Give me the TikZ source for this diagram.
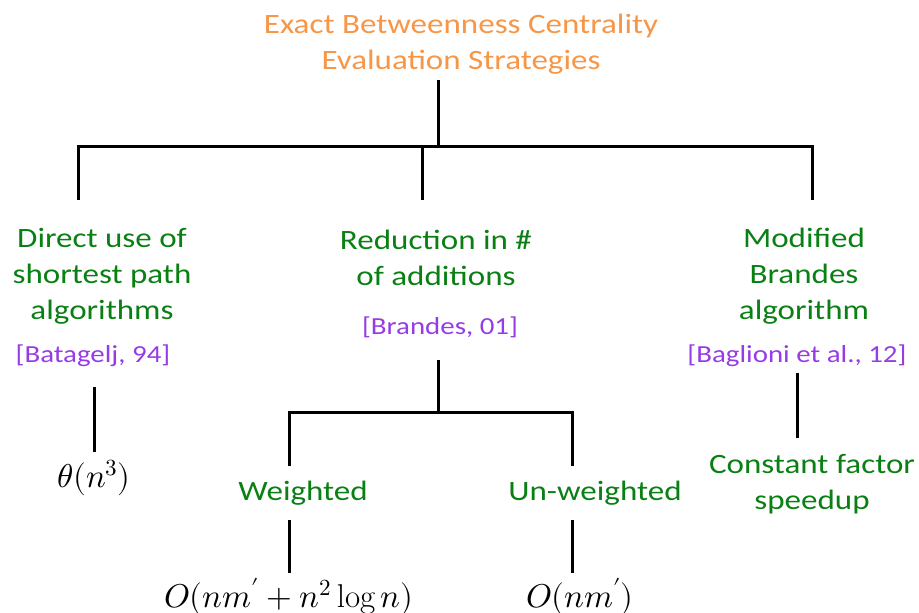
\documentclass[tikz,border=0pt]{standalone}
\usepackage{fontspec}
\usepackage{unicode-math}
\setmainfont{Carlito}[FakeStretch=1.18]
\setmathfont{Latin Modern Math}
\setmathrm{Latin Modern Roman}
\definecolor{ttlorange}{RGB}{247,150,70}
\definecolor{catgreen}{RGB}{10,128,20}
\definecolor{citepurple}{RGB}{150,60,230}
\tikzset{
  ttl/.style={text=ttlorange, font=\fontsize{28}{36}\selectfont, align=center, inner sep=0pt},
  cat/.style={text=catgreen, font=\fontsize{28}{36}\selectfont, align=center, inner sep=0pt},
  cite/.style={text=citepurple, font=\fontsize{24.5}{28}\selectfont, align=center, inner sep=0pt},
  cplx/.style={text=black, font=\fontsize{33}{36}\selectfont, inner sep=0pt},
  link/.style={draw=black, line width=3pt}
}
\begin{document}
\begin{tikzpicture}[x=1pt,y=-1pt]
\useasboundingbox (0,0) rectangle (919,613);
% texts
\node[ttl] (title) at (461,44) {Exact Betweenness Centrality\\Evaluation Strategies};
\node[cat] (direct) at (102,276) {Direct use of\\shortest path\\algorithms};
\node[cite] (bat) at (93,356) {[Batagelj, 94]};
\node[cplx] (theta) at (94,478) {$\theta(n^3)$};
\node[cat] (reduc) at (436,258) {Reduction in \#\\of additions};
\node[cite] (bra) at (440,327) {[Brandes, 01]};
\node[cat] (wt) at (303,493) {Weighted};
\node[cat] (unwt) at (595,493) {Un-weighted};
\node[cplx] (owt) at (289,597) {$O(nm' + n^2 \log n)$};
\node[cplx] (ounwt) at (580,597) {$O(nm')$};
\node[cat] (mod) at (804,276) {Modified\\Brandes\\algorithm};
\node[cite] (bag) at (797,356) {[Baglioni et al., 12]};
\node[cat] (const) at (812,484) {Constant factor\\speedup};
% junction coordinates
\coordinate (t0) at (438,80);
\coordinate (tj) at (438,146);
\coordinate (hl) at (78,146);
\coordinate (hm) at (422,146);
\coordinate (hr) at (812,146);
\coordinate (dl) at (78,200);
\coordinate (dm) at (422,200);
\coordinate (dr) at (812,200);
\coordinate (b0) at (438,360);
\coordinate (bj) at (438,412);
\coordinate (bl) at (289,412);
\coordinate (br) at (572,412);
\coordinate (bld) at (289,466);
\coordinate (brd) at (572,466);
\coordinate (w0) at (289,520);
\coordinate (w1) at (289,573);
\coordinate (u0) at (572,520);
\coordinate (u1) at (572,573);
\coordinate (g0) at (94,387);
\coordinate (g1) at (94,452);
\coordinate (m0) at (797,373);
\coordinate (m1) at (797,438);
% connectors
\draw[link] (t0) -- (tj);
\draw[link] (dl) -- (hl) -- (hr) -- (dr);
\draw[link] (hm) -- (dm);
\draw[link] (b0) -- (bj);
\draw[link] (bld) -- (bl) -- (br) -- (brd);
\draw[link] (w0) -- (w1);
\draw[link] (u0) -- (u1);
\draw[link] (g0) -- (g1);
\draw[link] (m0) -- (m1);
\end{tikzpicture}
\end{document}
